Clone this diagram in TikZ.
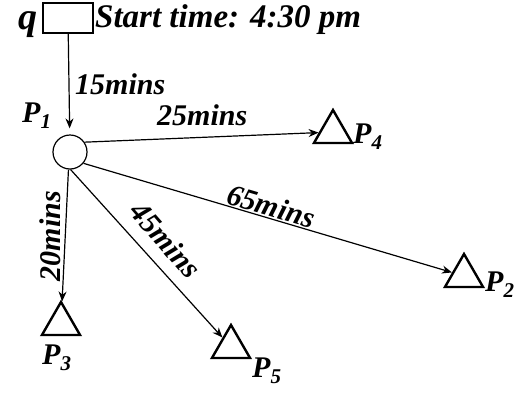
\documentclass[tikz,border=0pt]{standalone}
\usepackage{fontspec}
\setmainfont{Liberation Serif}
\usetikzlibrary{arrows.meta,shapes.geometric}

\newcommand{\pname}[1]{P\raisebox{-6pt}{\fontsize{21}{21}\selectfont #1}}

\begin{document}
\begin{tikzpicture}[x=1pt, y=-1pt,
  qbox/.style={draw, rectangle, line width=2pt, minimum width=50pt,
    minimum height=30pt, inner sep=0pt},
  hub/.style={draw, circle, line width=1.2pt, minimum size=34pt, inner sep=0pt},
  dst/.style={draw, regular polygon, regular polygon sides=3,
    line width=2.4pt, minimum size=44pt, inner sep=0pt},
  lnk/.style={-{Stealth[length=10pt, width=8pt]}, line width=1.2pt},
  lbl/.style={font=\fontsize{30}{32}\selectfont\bfseries\itshape, inner sep=1pt},
]
\useasboundingbox (0,0) rectangle (518,392);
% start point and its box
\node[qbox] (q) at (68,18) {};
\node[lbl, font=\fontsize{38}{38}\selectfont\bfseries\itshape, anchor=base east,
  text height=17pt] (qname) at (39,29) {q};
\node[lbl, font=\fontsize{33}{34}\selectfont\bfseries\itshape, anchor=base west]
  (start) at (94,27) {Start time: 4:30 pm};
% P1
\node[hub] (p1) at (70,152) {};
\node[lbl, anchor=base west] (p1name) at (21,122) {\pname{1}};
% destinations
\node[dst] (p4) at (333,132) {};
\node[dst] (p2) at (464,276) {};
\node[dst] (p3) at (61,324) {};
\node[dst] (p5) at (231,347) {};
\node[lbl, anchor=base west] (p4name) at (352,143) {\pname{4}};
\node[lbl, anchor=base west] (p2name) at (484,291) {\pname{2}};
\node[lbl, anchor=base west] (p3name) at (41,364) {\pname{3}};
\node[lbl, anchor=base west] (p5name) at (251,377) {\pname{5}};
% links
\draw[lnk, shorten >=6pt] (q) -- (p1);
\draw[lnk] (p1.34) -- (p4);
\draw[lnk] (p1.-40) -- node[lbl, above, sloped, pos=0.5] (t65) {65mins} (p2);
\draw[lnk] (p1.-95) -- (p3);
\draw[lnk] (p1.-88) -- (p5);
\node[lbl, anchor=base west] (t15) at (74,94) {15mins};
\node[lbl, anchor=base west] (t25) at (156,125) {25mins};
\node[lbl, rotate=90] (t20) at (50,236) {20mins};
\node[lbl, rotate=-49] (t45) at (166,240) {45mins};
\end{tikzpicture}
\end{document}
